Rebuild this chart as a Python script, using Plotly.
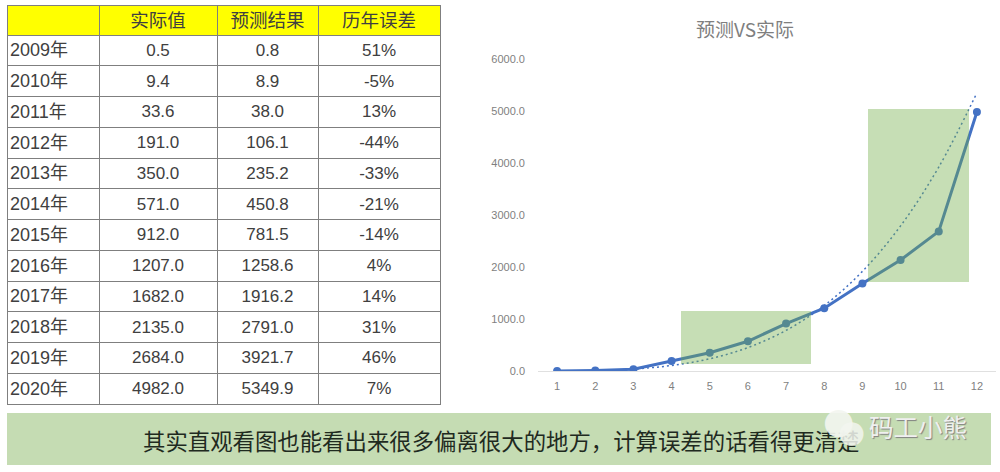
import plotly.graph_objects as go

years = ["2009年", "2010年", "2011年", "2012年", "2013年", "2014年", "2015年", "2016年", "2017年", "2018年", "2019年", "2020年"]
actual = [0.5, 9.4, 33.6, 191.0, 350.0, 571.0, 912.0, 1207.0, 1682.0, 2135.0, 2684.0, 4982.0]
predicted = [0.8, 8.9, 38.0, 106.1, 235.2, 450.8, 781.5, 1258.6, 1916.2, 2791.0, 3921.7, 5349.9]
errors = ["51%", "-5%", "13%", "-44%", "-33%", "-21%", "-14%", "4%", "14%", "31%", "46%", "7%"]
headers = ["", "实际值", "预测结果", "历年误差"]
x_vals = list(range(1, 13))
y_ticks = [0, 1000, 2000, 3000, 4000, 5000, 6000]

W, H = 1000, 472
FONT = "Liberation Sans, Noto Sans CJK SC, sans-serif"
CJK = "Noto Sans CJK SC, sans-serif"
ROW_H = 30.75


def px(v):
    return v / W


def py(v):
    return 1 - v / H


def rect(x0, y0, x1, y1, fill, layer="above"):
    return dict(type="rect", xref="paper", yref="paper", x0=px(x0), x1=px(x1), y0=py(y0), y1=py(y1),
                fillcolor=fill, line=dict(width=0), layer=layer)


def label(text, x, y, size, color, family=CJK, xanchor="center", **font_extra):
    return dict(text=text, xref="paper", yref="paper", x=px(x), y=py(y), showarrow=False,
                xanchor=xanchor, yanchor="middle",
                font=dict(family=family, size=size, color=color, **font_extra))


fig = go.Figure()

fig.add_trace(go.Table(
    domain=dict(x=[px(7), px(440)], y=[py(405), py(5)]),
    columnwidth=[92, 118, 101, 122],
    header=dict(values=headers, height=30, fill_color="#ffff00",
                line=dict(color="#7f7f7f", width=1),
                align="center", font=dict(family=FONT, size=18.5, color="#404040")),
    cells=dict(values=[[""] * len(years),
                       [f"{v:.1f}" for v in actual],
                       [f"{v:.1f}" for v in predicted],
                       errors],
               height=ROW_H, fill_color="#ffffff",
               line=dict(color="#7f7f7f", width=1),
               align=["left", "center", "center", "center"],
               font=dict(family=FONT, size=17, color="#404040")),
))

fig.add_trace(go.Scatter(x=x_vals, y=predicted, mode="lines",
                         line=dict(color="#4472c4", width=1.5, dash="2px,3px", shape="spline"),
                         showlegend=False, hoverinfo="skip"))
fig.add_trace(go.Scatter(x=x_vals, y=actual, mode="lines+markers", line=dict(color="#4472c4", width=3),
                         marker=dict(color="#4472c4", size=8), showlegend=False))

year_labels = [label(y, 8, 35 + ROW_H * (i + 0.5), 18, "#404040", family=FONT, xanchor="left")
               for i, y in enumerate(years)]

fig.update_layout(
    width=W, height=H, margin=dict(l=0, r=0, t=0, b=0, autoexpand=False),
    paper_bgcolor="#ffffff", plot_bgcolor="#ffffff", showlegend=False,
    font=dict(family=FONT),
    xaxis=dict(domain=[px(538), px(996)], range=[0.5, 12.5], tickmode="array", tickvals=x_vals,
               showgrid=False, zeroline=False, showline=False, ticks="", automargin=False,
               ticklabelstandoff=7,
               tickfont=dict(size=11, color="#7f7f7f", family=FONT)),
    yaxis=dict(domain=[py(371), py(59)], range=[0, 6000], tickmode="array", tickvals=y_ticks, automargin=False,
               tickformat=".1f", showgrid=False, zeroline=True, zerolinecolor="#e0e0e0", zerolinewidth=1,
               showline=False, ticks="", ticklabelstandoff=12,
               tickfont=dict(size=11, color="#7f7f7f", family=FONT)),
    shapes=[
        rect(681, 311, 811, 364, "rgba(112,173,71,0.4)"),
        rect(868, 109, 969, 282, "rgba(112,173,71,0.4)"),
        rect(7, 413, 991, 465, "#c5dcb3", layer="below"),
    ],
    annotations=year_labels + [
        label("预测VS实际", 745, 29, 19, "#7f7f7f"),
        label("其实直观看图也能看出来很多偏离很大的地方，计算误差的话看得更清楚", 501, 440, 22.4, "#1f2a1f"),
        label("●", 838, 420, 36, "rgba(243,246,240,0.92)", family="DejaVu Sans"),
        label("●", 851, 431, 31, "rgba(243,246,240,0.85)", family="DejaVu Sans"),
        label("码工小熊", 918, 426, 24.5, "#f0f0f0", shadow="1px 1px 1px #808080"),
    ],
)

fig.write_html("out.html", config=dict(displayModeBar=False),
               post_script="document.body.style.margin='0';document.documentElement.style.overflow='hidden';")
